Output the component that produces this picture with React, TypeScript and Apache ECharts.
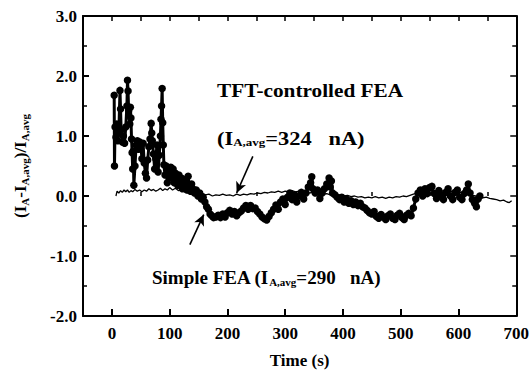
import React, { useEffect, useRef } from "react";
import * as echarts from "echarts";

// Simple FEA (thick line with markers)
const simpleTime = [
  4, 4.5, 5.5, 7, 8.5, 10, 12, 14, 15, 16, 18, 20, 22, 24, 26, 27, 28, 29, 31, 32, 33, 34, 35, 36, 37, 38,
  40, 42, 44, 46, 48, 50, 52, 54, 56, 58, 60, 62, 64, 66, 68, 69, 70, 72, 74, 76, 78, 80, 82, 84, 85, 86,
  87, 88, 89, 90, 92, 94, 96, 98,
  100, 102, 104, 106, 108, 110, 112, 114, 116, 118, 120, 122, 124, 126, 128, 130, 132, 134, 136, 138,
  140, 143, 146, 149, 152, 155, 158, 161, 164, 167, 170, 173, 176,
  180, 184, 188, 192, 196, 200, 204, 208, 212, 216, 220, 224, 228, 232, 236, 240, 244, 248, 252, 256,
  260, 264, 268, 272, 276, 280, 284, 288, 292, 296, 300, 304, 308, 312, 316, 320, 324, 328, 332, 336,
  340, 344, 346, 348, 352, 356, 360, 364, 368, 372, 376, 378, 380, 382, 386, 390, 394, 398, 402, 406,
  410, 414, 418, 422, 426, 430, 434, 438, 442, 446, 450, 454, 458, 462, 466, 470, 474, 478, 482, 486,
  490, 494, 498, 502, 506, 510, 514, 518, 522, 526, 530, 534, 538, 542, 546, 550, 554, 558, 562, 566,
  570, 574, 578, 582, 586, 590, 594, 598, 602, 606, 610, 614, 617, 620, 624, 628, 631, 634, 637,
];
const simpleValue = [
  1.68, 0.5, 1.15, 0.98, 1.2, 0.92, 1.05, 1.76, 1.45, 1.1, 0.9, 1.0, 0.88, 1.15, 1.5, 1.93, 1.75, 1.42, 1.2, 1.48, 1.3, 0.95, 0.72, 0.45, 0.75, 0.18,
  0.5, 0.85, 0.92, 0.78, 0.9, 0.86, 0.62, 0.88, 0.55, 0.38, 0.3, 0.6, 0.82, 0.95, 1.21, 1.05, 0.92, 0.7, 0.45, 0.62, 0.85, 0.4, 0.68, 1.0, 1.28, 1.5,
  1.79, 1.22, 0.85, 0.52, 0.35, 0.5, 0.22, 0.4,
  0.3, 0.48, 0.32, 0.45, 0.22, 0.38, 0.3, 0.18, 0.35, 0.22, 0.3, 0.12, 0.28, 0.15, 0.25, 0.1, 0.33, 0.18, 0.08, 0.2,
  0.12, 0.05, 0.1, 0.0, 0.05, -0.05, -0.02, -0.1, -0.18, -0.22, -0.3, -0.33, -0.36,
  -0.35, -0.32, -0.36, -0.3, -0.35, -0.28, -0.24, -0.3, -0.26, -0.33, -0.28, -0.25, -0.2, -0.16, -0.22, -0.16, -0.21, -0.2, -0.26, -0.3,
  -0.35, -0.38, -0.4, -0.34, -0.28, -0.22, -0.15, -0.22, -0.1, -0.05, -0.14, -0.02, 0.05, -0.06, 0.02, -0.1, 0.0, 0.06, -0.05, 0.05,
  0.15, 0.22, 0.32, 0.12, 0.05, 0.1, -0.04, 0.05, 0.12, 0.2, 0.3, 0.15, 0.25, 0.05, 0.02, -0.02, -0.06, -0.02, -0.1, -0.05,
  -0.12, -0.08, -0.14, -0.1, -0.16, -0.12, -0.18, -0.2, -0.24, -0.28, -0.3, -0.26, -0.34, -0.37, -0.31, -0.35, -0.39, -0.33, -0.3, -0.37,
  -0.39, -0.32, -0.29, -0.36, -0.39, -0.32, -0.29, -0.33, -0.2, -0.05, 0.05, 0.1, 0.0, 0.12, 0.04, 0.14, 0.16, 0.04, -0.04, 0.09,
  0.02, -0.06, 0.06, 0.12, 0.0, -0.06, 0.06, 0.1, -0.02, -0.06, 0.04, 0.1, 0.2, 0.05, -0.06, -0.12, -0.18, -0.05, 0.0,
];

// TFT-controlled FEA (thin line)
const tftTime = [
  7, 9, 12, 15, 18, 21, 24, 27, 30, 33, 36, 40, 44, 48, 52, 56, 60, 64, 68, 72, 76, 80, 84, 88, 92, 96,
  100, 105, 110, 115, 120, 126, 132, 138, 144, 150, 156, 162, 168, 174, 180, 186, 192, 198, 204, 210, 216,
  222, 228, 234, 240, 246, 252, 258, 264, 270, 276, 282, 288, 294, 300, 306, 312, 318, 324, 330, 336, 342,
  348, 354, 360, 366, 372, 378, 384, 390, 396, 402, 408, 414, 420, 426, 432, 438, 444, 450, 456, 462, 468,
  474, 480, 486, 492, 498, 504, 510, 516, 522, 528, 534, 540, 546, 552, 558, 564, 570, 576, 582, 588, 594,
  600, 606, 612, 618, 624, 630, 636, 642, 648, 654, 660, 666, 672, 678, 684, 688, 692,
];
const tftValue = [
  0.0, 0.08, 0.05, 0.09, 0.06, 0.1, 0.07, 0.1, 0.06, 0.09, 0.07, 0.11, 0.08, 0.1, 0.07, 0.1, 0.08, 0.12, 0.09, 0.11, 0.08, 0.1, 0.13, 0.09, 0.12, 0.1,
  0.14, 0.1, 0.13, 0.09, 0.1, 0.07, 0.08, 0.05, 0.06, 0.03, 0.05, 0.02, 0.03, 0.0, 0.02, 0.01, 0.03, 0.01, 0.02, 0.0, 0.03,
  0.01, 0.03, 0.02, 0.04, 0.03, 0.05, 0.04, 0.06, 0.05, 0.07, 0.06, 0.08, 0.06, 0.08, 0.07, 0.09, 0.07, 0.08, 0.06, 0.07, 0.05,
  0.06, 0.04, 0.05, 0.03, 0.04, 0.02, 0.03, 0.01, 0.02, 0.0, 0.01, -0.01, 0.0, -0.02, -0.01, -0.03, -0.02, -0.03, -0.01, -0.03, -0.02,
  -0.04, -0.02, -0.03, -0.01, -0.02, 0.0, -0.01, 0.01, 0.03, 0.05, 0.06, 0.08, 0.07, 0.09, 0.08, 0.1, 0.08, 0.09, 0.07, 0.08, 0.06,
  0.07, 0.05, 0.04, 0.03, 0.01, 0.0, -0.01, -0.03, -0.02, -0.04, -0.05, -0.06, -0.08, -0.07, -0.1, -0.11, -0.08,
];

const xMajor = [0, 100, 200, 300, 400, 500, 600, 700];
const xMinor = [50, 150, 250, 350, 450, 550, 650];
const xTop = [0, 50, 100, 150, 200, 250, 300, 350, 400, 450, 500, 550, 600, 650, 700];

// arrows [tailTime, tailValue, tipTime, tipValue]
const tftArrow = [244, 0.66, 216, 0.05];
const simpleArrow = [135, -0.81, 159, -0.31];

const FONT = "'Liberation Serif', 'Times New Roman', serif";

export default function App() {
  const ref = useRef<HTMLDivElement>(null);
  useEffect(() => {
    if (!ref.current) return;
    const chart = echarts.init(ref.current, null, { renderer: "svg" });
    const sub = (fs: number, pad: number) => ({ fontFamily: FONT, fontWeight: "bold", fontSize: fs, color: "#000", verticalAlign: "bottom", padding: [pad, 0, 0, 0] });
    const big = (fs: number) => ({ fontFamily: FONT, fontWeight: "bold", fontSize: fs, color: "#000" });
    const axisLine = { show: true, onZero: false, lineStyle: { color: "#000", width: 2 } };
    const simpleData = simpleTime.map((t, i) => [t, simpleValue[i]]);
    const tftData = tftTime.map((t, i) => [t, tftValue[i]]);
    chart.setOption({
      animation: false,
      backgroundColor: "#fff",
      textStyle: { fontFamily: FONT, fontWeight: "bold", color: "#000" },
      grid: { left: 83, right: 13, top: 16, bottom: 56 },
      xAxis: [
        {
          type: "value", min: -50, max: 700, position: "bottom",
          axisLine,
          axisTick: { show: true, inside: true, length: 7, customValues: xMajor, lineStyle: { color: "#000", width: 2 } },
          axisLabel: {
            customValues: xMajor, margin: 9, color: "#000",
            formatter: (v: number) => `{t|${v}}`, rich: { t: big(17) },
          },
          splitLine: { show: false },
          name: "Time (s)", nameLocation: "middle", nameGap: 36,
          nameTextStyle: big(17),
        },
        {
          type: "value", min: -50, max: 700, position: "bottom",
          axisLine: { show: false },
          axisTick: { show: true, inside: true, length: 4, customValues: xMinor, lineStyle: { color: "#000", width: 1.5 } },
          axisLabel: { show: false },
          splitLine: { show: false },
        },
        {
          type: "value", min: -50, max: 700, position: "top",
          axisLine,
          axisTick: { show: true, inside: true, length: 5, customValues: xTop, lineStyle: { color: "#000", width: 1.5 } },
          axisLabel: { show: false },
          splitLine: { show: false },
        },
      ],
      yAxis: [
        {
          type: "value", min: -2, max: 3, interval: 1, position: "left",
          axisLine,
          axisTick: { show: true, inside: true, length: 6, lineStyle: { color: "#000", width: 2 } },
          minorTick: { show: true, splitNumber: 2, length: 4, lineStyle: { color: "#000", width: 1.5 } },
          axisLabel: {
            margin: 6, color: "#000",
            formatter: (v: number) => `{t|${v.toFixed(1)}}`, rich: { t: big(17) },
          },
          splitLine: { show: false },
          minorSplitLine: { show: false },
          name: "{b|(I}{s|A}{b|-I}{s|A,avg}{b|)/I}{s|A,avg}",
          nameLocation: "middle", nameRotate: 90, nameGap: 53,
          nameTextStyle: { rich: { b: big(17), s: sub(11, 8) } },
        },
        {
          type: "value", min: -2, max: 3, interval: 1, position: "right",
          axisLine,
          axisTick: { show: true, inside: true, length: 6, lineStyle: { color: "#000", width: 1.5 } },
          minorTick: { show: true, splitNumber: 2, length: 4, lineStyle: { color: "#000", width: 1.5 } },
          axisLabel: { show: false },
          splitLine: { show: false },
        },
      ],
      series: [
        {
          name: "TFT-controlled FEA", type: "line", xAxisIndex: 0, yAxisIndex: 0,
          data: tftData, showSymbol: false, symbol: "none",
          lineStyle: { color: "#000", width: 1.3 },
          markLine: {
            silent: true, symbol: ["none", "arrow"], symbolSize: [8, 11],
            label: { show: false },
            lineStyle: { color: "#000", width: 1.6, type: "solid" },
            data: [
              [{ coord: [tftArrow[0], tftArrow[1]] }, { coord: [tftArrow[2], tftArrow[3]] }],
              [{ coord: [simpleArrow[0], simpleArrow[1]] }, { coord: [simpleArrow[2], simpleArrow[3]] }],
            ],
          },
        },
        {
          name: "Simple FEA", type: "line", xAxisIndex: 0, yAxisIndex: 0,
          data: simpleData, symbol: "circle", symbolSize: 7.5, showAllSymbol: true,
          itemStyle: { color: "#000" },
          lineStyle: { color: "#000", width: 3 },
        },
      ],
      graphic: [
        {
          type: "text", x: 217, y: 90, scaleX: 1.12,
          style: { text: "TFT-controlled FEA", font: `bold 19px ${FONT}`, fill: "#000", verticalAlign: "middle" },
        },
        {
          type: "text", x: 217, y: 138, scaleX: 1.18,
          style: { text: "{b|(I}{s|A,avg}{b|=324   nA)}", rich: { b: big(19), s: sub(11, 9) }, verticalAlign: "middle" },
        },
        {
          type: "text", x: 152, y: 277, scaleX: 1.0,
          style: { text: "{b|Simple FEA (I}{s|A,avg}{b|=290   nA)}", rich: { b: big(19), s: sub(11, 9) }, verticalAlign: "middle" },
        },
      ],
    });
    return () => chart.dispose();
  }, []);
  return <div ref={ref} style={{ position: "fixed", left: 0, top: 0, width: 532, height: 374 }} />;
}
